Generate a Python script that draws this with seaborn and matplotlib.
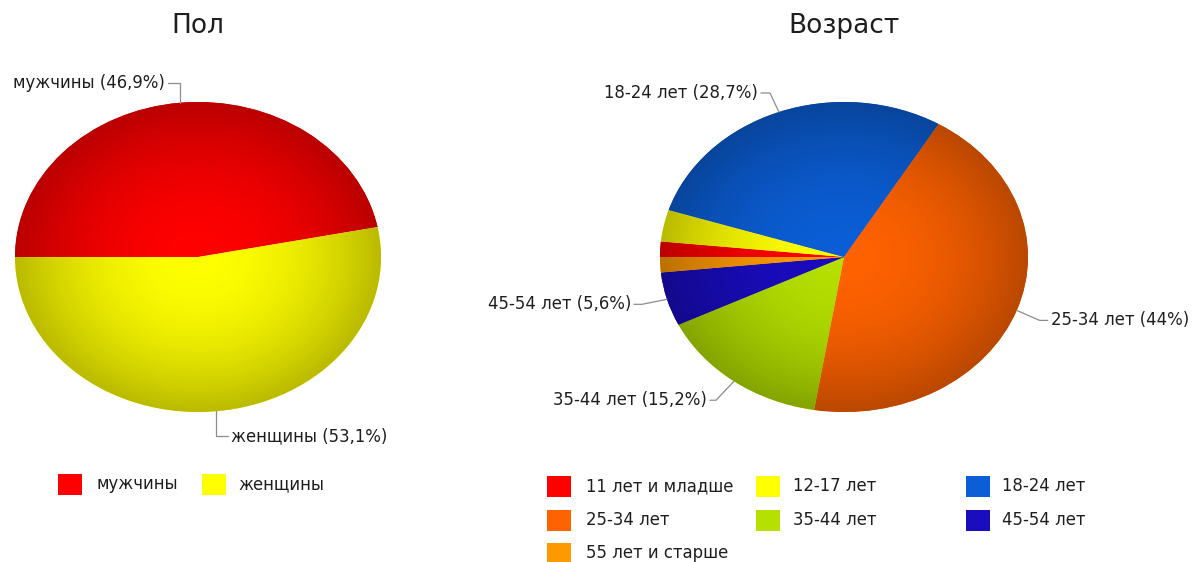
import numpy as np
import matplotlib
matplotlib.use("Agg")
import matplotlib.pyplot as plt
import seaborn as sns
from matplotlib.colors import to_rgb
from matplotlib.lines import Line2D
from matplotlib.patches import Rectangle
from matplotlib.transforms import IdentityTransform

# ---------------- data ----------------
sex_title = "Пол"
sex_labels = ["мужчины", "женщины"]
sex_values = [46.9, 53.1]
sex_colors = ["#ff0000", "#ffff00"]

age_title = "Возраст"
age_labels = ["11 лет и младше", "12-17 лет", "18-24 лет", "25-34 лет",
              "35-44 лет", "45-54 лет", "55 лет и старше"]
age_values = [1.6, 3.3, 28.7, 44.0, 15.2, 5.6, 1.6]
age_colors = ["#ff0000", "#ffff00", "#0b5ed6", "#ff6200", "#b5e000",
              "#1a0cbf", "#ff9900"]

# ---------------- style ----------------
sns.set_theme(style="white")
plt.rcParams['font.family'] = ['DejaVu Sans']
TXT = "#1e1e1e"
LINE = "#8c8c8c"
FS = 11.9

W, H, DPI = 1198, 562, 100
fig = plt.figure(figsize=(W / DPI, H / DPI), dpi=DPI)
fig.patch.set_facecolor("white")
ID = IdentityTransform()


def pxbox(x0, y0, x1, y1):
    return [x0 / W, 1 - y1 / H, (x1 - x0) / W, (y1 - y0) / H]


def fmt(v):
    s = ("%.1f" % v).rstrip("0").rstrip(".")
    return s.replace(".", ",") + "%"


n = 400
g = np.linspace(-1, 1, n)
GX, GY = np.meshgrid(g, g)
R = np.clip(np.hypot(GX, GY), 0, 1)


def shaded_pie(ax, values, colors):
    wedges, _ = ax.pie(values, colors=colors, startangle=180,
                       counterclock=False, radius=1,
                       wedgeprops=dict(linewidth=0))
    for w, c in zip(wedges, colors):
        rgb = np.array(to_rgb(c))
        shade = 1 - 0.27 * R ** 2.0
        img = np.clip(rgb[None, None, :] * shade[..., None], 0, 1)
        im = ax.imshow(img, extent=(-1, 1, -1, 1), origin="lower",
                       aspect="auto", zorder=2, interpolation="bilinear")
        im.set_clip_path(w)
    ax.set_aspect("auto")
    ax.set_xlim(-1, 1)
    ax.set_ylim(-1, 1)
    ax.axis("off")
    return wedges


def callout(ax, wedge, text, elbow, tail):
    th = np.deg2rad((wedge.theta1 + wedge.theta2) / 2)
    ax_x, ax_y = ax.transData.transform((np.cos(th), np.sin(th)))
    ex, ey = ax_x + elbow[0], ax_y - elbow[1]
    tx = ex + tail
    fig.add_artist(Line2D([ax_x, ex, tx], [ax_y, ey, ey], color=LINE,
                          lw=0.9, transform=ID))
    ha = "right" if tail < 0 else "left"
    gap = -3 if tail < 0 else 3
    fig.text(tx + gap, ey, text, ha=ha, va="center", fontsize=FS,
             color=TXT, transform=ID)


# ---------------- left pie ----------------
ax1 = fig.add_axes(pxbox(15, 102, 381, 412))
w1 = shaded_pie(ax1, sex_values, sex_colors)
fig.text(198 / W, 1 - 33 / H, sex_title, ha="center", va="baseline",
         fontsize=19, color=TXT)
sex_layout = {"мужчины": ((0, -20), -12), "женщины": ((0, 25), 12)}
for w, lab, v in zip(w1, sex_labels, sex_values):
    el, tl = sex_layout[lab]
    callout(ax1, w, f"{lab} ({fmt(v)})", el, tl)

# ---------------- right pie ----------------
ax2 = fig.add_axes(pxbox(660, 102, 1028, 412))
w2 = shaded_pie(ax2, age_values, age_colors)
fig.text(844 / W, 1 - 33 / H, age_title, ha="center", va="baseline",
         fontsize=19, color=TXT)
age_layout = {"18-24 лет": ((-9, -19), -9),
              "25-34 лет": ((23, 10), 8),
              "35-44 лет": ((-18, 19), -6),
              "45-54 лет": ((-25, 5), -8)}
for w, lab, v in zip(w2, age_labels, age_values):
    if lab in age_layout:
        el, tl = age_layout[lab]
        callout(ax2, w, f"{lab} ({fmt(v)})", el, tl)

# ---------------- legends ----------------
def legend_item(x_box, x_txt, y_c, color, label):
    fig.add_artist(Rectangle((x_box, H - y_c - 10.5), 24, 21,
                             facecolor=color, edgecolor="none",
                             transform=ID))
    fig.text(x_txt, H - y_c, label, ha="left", va="center",
             fontsize=FS, color=TXT, transform=ID)


sex_leg_pos = [(58, 97), (202, 238)]
for (xb, xt), c, lab in zip(sex_leg_pos, sex_colors, sex_labels):
    legend_item(xb, xt, 484, c, lab)

cols = [(547, 586), (756, 793), (966, 1002)]
rows = [486, 520, 553]
for i, (c, lab) in enumerate(zip(age_colors, age_labels)):
    xb, xt = cols[i % 3]
    legend_item(xb, xt, rows[i // 3], c, lab)

fig.savefig("out.png", dpi=DPI, facecolor="white")
